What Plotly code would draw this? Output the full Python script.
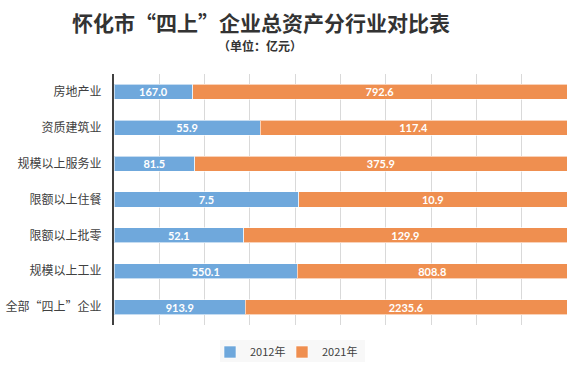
import plotly.graph_objects as go

categories = ["全部“四上”企业", "规模以上工业", "限额以上批零", "限额以上住餐",
              "规模以上服务业", "资质建筑业", "房地产业"]
values_2012 = [913.9, 550.1, 52.1, 7.5, 81.5, 55.9, 167.0]
values_2021 = [2235.6, 808.8, 129.9, 10.9, 375.9, 117.4, 792.6]
series_names = ["2012年", "2021年"]
colors = ["#6FA8DC", "#EF8F50"]

CJK = "Noto Sans CJK SC"
NUM = "Lato, Noto Sans CJK SC"

L, R, T, B, W, H = 114, 16, 74, 45, 583, 370
PW, PH = W - L - R, H - T - B


def px_x(x):
    return (x - L) / PW


def px_y(y):
    return (H - B - y) / PH


fig = go.Figure()
legend_ids = ["legend", "legend2"]
for name, vals, col, lg in zip(series_names, [values_2012, values_2021], colors, legend_ids):
    fig.add_trace(go.Bar(
        y=categories, x=vals, name=name, orientation="h", legend=lg,
        marker=dict(color=col, line=dict(color="rgba(255,255,255,0.6)", width=1)),
        text=[f"{v:.1f}" for v in vals], textposition="inside",
        insidetextanchor="middle",
        textfont=dict(family=NUM, size=11, color="white", weight="bold"),
        hoverinfo="skip",
    ))

legend_common = dict(orientation="h", yanchor="middle", xanchor="left",
                     bgcolor="rgba(0,0,0,0)", itemwidth=30,
                     font=dict(family=CJK, size=11, color="#404040"))

fig.update_layout(
    barmode="stack", barnorm="percent", bargap=0.58,
    width=W, height=H,
    margin=dict(l=L, r=R, t=T, b=B, autoexpand=False),
    paper_bgcolor="white", plot_bgcolor="white",
    font=dict(family=CJK, size=12, color="#404040"),
    showlegend=True,
    legend=dict(x=px_x(210), y=px_y(352), **legend_common),
    legend2=dict(x=px_x(282), y=px_y(352), **legend_common),
    uniformtext=dict(minsize=8, mode="show"),
)
fig.update_xaxes(range=[0, 100], dtick=10, showgrid=True, gridcolor="#d9d9d9",
                 gridwidth=1, showticklabels=False, zeroline=False, showline=False,
                 fixedrange=True, automargin=False)
fig.update_yaxes(showline=True, linecolor="#404040", linewidth=2, ticks="",
                 ticklabelstandoff=8, tickfont=dict(family=CJK, size=12, color="#404040"),
                 fixedrange=True, automargin=False)

# legend background box
fig.add_shape(type="rect", xref="paper", yref="paper", layer="below",
              x0=px_x(220), x1=px_x(365), y0=px_y(362), y1=px_y(340),
              fillcolor="#f8f8f8", line=dict(width=0))

fig.add_annotation(text="<b>怀化市“四上”企业总资产分行业对比表</b>", xref="paper", yref="paper",
                   x=px_x(261), y=px_y(22), xanchor="center", yanchor="middle", showarrow=False,
                   font=dict(family=CJK, size=21, color="#333333"))
fig.add_annotation(text="<b>（单位：亿元）</b>", xref="paper", yref="paper",
                   x=px_x(260), y=px_y(45), xanchor="center", yanchor="middle", showarrow=False,
                   font=dict(family=CJK, size=12, color="#333333"))

fig.write_html("out.html", config={"displayModeBar": False},
               post_script="document.body.style.margin='0';")
